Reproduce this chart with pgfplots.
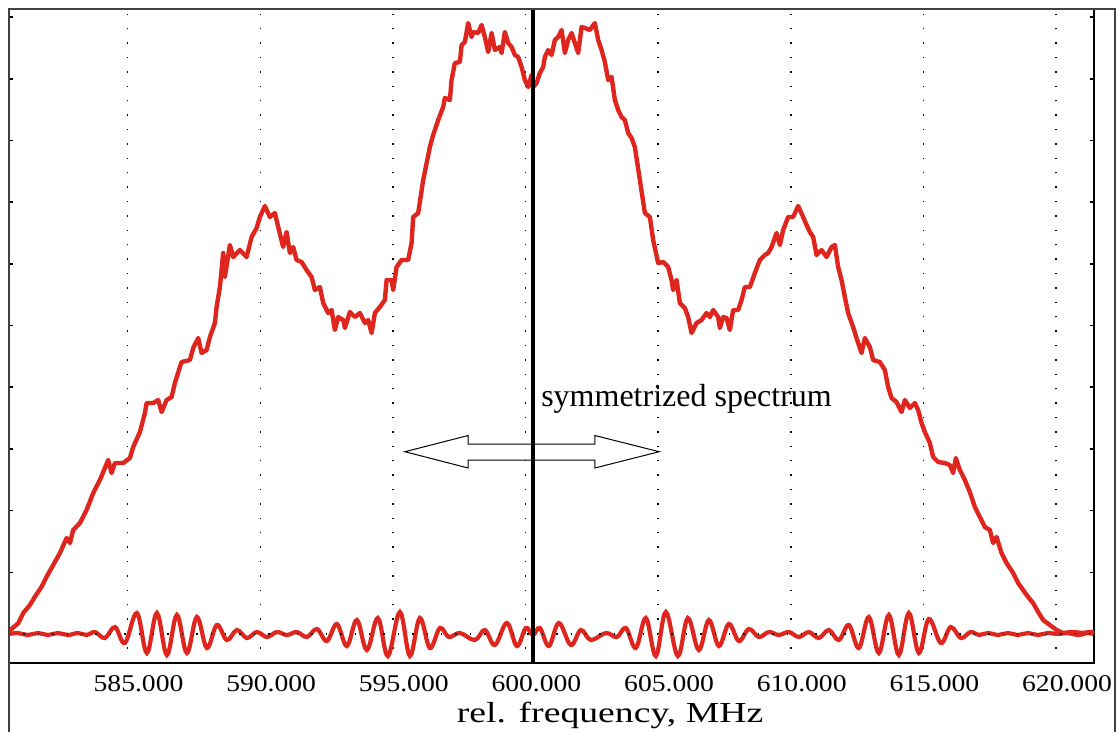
\documentclass[border=0pt]{standalone}
\usepackage{fontspec}
\setmainfont{Liberation Serif}
\usepackage{pgfplots}
\pgfplotsset{compat=1.18}
\definecolor{specred}{RGB}{222,38,30}

\pgfplotstableread{
x y
580.53 3
580.877 10.7
581.065 21
581.318 29
581.506 37.3
581.759 47.3
581.947 57.3
582.196 69
582.449 81
582.701 96
582.826 91
582.950 104
583.202 111
583.455 124
583.704 141
583.956 154
584.081 162
584.269 174
584.397 161
584.522 171
584.835 171
585.087 176
585.212 187
585.464 202
585.653 221
585.717 231
585.965 231
586.154 234
586.282 222
586.470 234
586.659 237
586.783 251
586.972 267
587.036 272
587.349 274
587.473 286
587.662 296
587.790 281
587.978 284
588.103 297
588.291 311
588.355 327
588.480 347
588.604 381
588.668 357
588.856 389
588.981 377
589.233 384
589.486 377
589.674 397
589.863 406
589.987 417
590.176 428
590.364 417
590.553 421
590.677 407
590.865 387
590.994 402
591.118 381
591.242 387
591.371 374
591.559 372
591.747 364
591.936 357
592.060 344
592.249 347
592.373 331
592.562 321
592.690 324
592.814 304
592.939 317
593.127 314
593.191 306
593.380 322
593.568 317
593.757 321
593.945 311
594.069 314
594.198 301
594.322 321
594.510 327
594.699 334
594.763 354
594.951 354
595.012 344
595.140 367
595.328 374
595.577 374
595.705 391
595.766 417
595.954 421
596.143 454
596.395 487
596.519 499
596.708 514
596.896 527
596.960 536
597.149 534
597.213 554
597.337 571
597.526 572
597.590 589
597.714 592
597.839 611
597.967 597
598.027 602
598.216 601
598.344 609
598.468 597
598.593 582
598.721 601
598.845 584
599.034 587
599.098 581
599.222 602
599.346 591
599.475 587
599.599 579
599.723 577
599.852 567
599.976 554
600.100 547
600.228 559
600.289 547
600.417 551
600.541 561
600.666 567
600.730 577
600.854 584
600.982 579
601.107 594
601.231 597
601.359 604
601.484 581
601.608 594
601.736 601
601.861 591
601.985 581
602.113 607
602.237 606
602.426 604
602.614 611
602.739 594
602.867 584
602.991 572
603.116 554
603.244 557
603.368 534
603.493 524
603.621 517
603.745 514
603.870 501
603.998 496
604.122 487
604.311 454
604.499 421
604.688 417
604.812 394
605.000 371
605.189 372
605.377 367
605.505 354
605.566 344
605.694 354
605.818 331
606.007 326
606.131 317
606.259 301
606.448 311
606.636 314
606.825 321
606.949 317
607.073 324
607.262 317
607.326 306
607.450 317
607.579 316
607.703 304
607.827 324
608.016 324
608.144 334
608.268 347
608.457 347
608.645 361
608.834 374
609.022 379
609.147 381
609.275 387
609.463 401
609.588 389
609.712 404
609.900 417
610.089 417
610.277 428
610.466 417
610.594 409
610.718 402
610.843 397
610.971 379
611.159 384
611.348 377
611.536 387
611.661 389
611.785 367
611.913 354
612.038 337
612.162 321
612.350 307
612.479 296
612.667 281
612.791 296
612.980 287
613.104 274
613.357 272
613.545 264
613.670 247
613.798 236
613.986 232
614.175 222
614.299 234
614.488 226
614.676 231
614.800 224
614.929 211
615.053 202
615.241 191
615.366 177
615.554 172
615.807 171
615.995 169
616.120 161
616.221 176
616.372 164
616.561 154
616.749 142
616.938 127
617.126 117
617.315 107
617.503 104
617.627 91
617.756 97
617.944 81
618.133 71
618.381 61
618.570 51
618.758 44
618.947 37
619.135 31
619.324 22
619.512 14
619.765 9
620.017 4
620.266 1
620.600 2
621.020 1
621.272 2
621.420 2
}\spectrum

\pgfplotstableread{
x y
580.53 0
580.865 1
581.242 -1
581.619 1
581.996 -1
582.373 1
582.750 -1
583.127 1
583.466 -1
583.768 2
584.145 -4
584.522 7
584.898 -9
585.351 21
585.728 -19
586.105 21
586.482 -21
586.858 19
587.235 -19
587.612 17
587.989 -14
588.366 9
588.743 -6
589.120 4
589.497 -4
589.874 2
590.251 -3
590.628 2
591.005 -1
591.382 2
591.759 -3
592.135 5
592.512 -7
592.889 10
593.266 -12
593.643 14
594.020 -16
594.435 16
594.812 -22
595.264 22
595.641 -22
596.018 16
596.395 -14
596.772 6
597.110 -3
597.525 1
598.090 -6
598.468 4
598.845 -11
599.297 11
599.674 -12
600.013 6
600.277 -1
600.541 6
600.880 -12
601.257 11
601.709 -11
602.086 4
602.464 -6
603.029 1
603.444 -3
603.783 6
604.159 -14
604.536 16
604.913 -22
605.290 22
605.742 -22
606.119 16
606.534 -16
606.911 14
607.288 -12
607.665 10
608.042 -7
608.419 5
608.796 -3
609.173 2
609.550 -1
609.926 2
610.303 -3
610.680 2
611.057 -4
611.434 4
611.811 -6
612.188 9
612.565 -14
612.942 17
613.319 -19
613.696 19
614.072 -21
614.449 21
614.826 -19
615.203 15
615.655 -9
616.032 7
616.409 -4
616.776 2
617.088 -1
617.428 1
617.805 -1
618.182 1
618.559 -1
618.936 1
619.312 -1
619.689 1
620.066 0
620.443 1
620.820 -1
621.197 1
621.420 0
}\oscill

\begin{document}
\begin{tikzpicture}
\begin{axis}[
  scale only axis,
  width=542.5pt, height=327pt,
  xmin=580.53, xmax=621.43,
  ymin=-29, ymax=625,
  clip=false,
  axis line style={line width=0.8pt, black},
  xtick={585,590,595,600,605,610,615,620},
  xticklabels={585.000,590.000,595.000,600.000,605.000,610.000,615.000,620.000},
  xtick style={draw=none},
  xticklabel style={font=\fontsize{12}{13}\selectfont, xscale=1.15, anchor=base, yshift=-14pt, xshift=4.75pt},
  xmajorgrids,
  grid style={black, line width=0.7pt, dash pattern=on 0.7pt off 6.5pt},
  ytick={61.7,123.4,185.1,246.8,308.5,370.2,431.9,493.6,555.3,617},
  yticklabels={},
  ytick style={black, line width=0.8pt},
  tick align=inside,
  major tick length=2pt,
]
\addplot[specred, line width=2.1pt, smooth, tension=0.6] table[x=x,y=y] {\oscill};
\addplot[specred, line width=2.2pt, line join=round] table[x=x,y=y] {\spectrum};
\draw[black, line width=0.7pt, dash pattern=on 0.7pt off 6.5pt] (axis cs:580.53,0) -- (axis cs:621.43,0);
\draw[black, line width=0.5pt, fill=white]
  (axis cs:595.453,182.3) -- (axis cs:597.839,198.5) -- (axis cs:597.839,190)
  -- (axis cs:602.614,190) -- (axis cs:602.614,198.5) -- (axis cs:605.038,182.3)
  -- (axis cs:602.614,166) -- (axis cs:602.614,174) -- (axis cs:597.839,174)
  -- (axis cs:597.839,166) -- cycle;
\addplot[black, line width=2pt] coordinates {(600.27,-29) (600.27,625)};
\node[anchor=base west, font=\fontsize{16}{18}\selectfont, inner sep=0pt] at (axis cs:600.579,227.3) {symmetrized spectrum};
\node[anchor=base, font=\fontsize{14.5}{16}\selectfont, xscale=1.3, inner sep=0pt] at (rel axis cs:0.554,-0.0917) {rel. frequency, MHz};
\draw[black!75, line width=0.6pt] (rel axis cs:0,-0.3) -- (rel axis cs:0,1) -- (rel axis cs:1.0194,1) -- (rel axis cs:1.0194,-0.3);
\coordinate (bbl) at (rel axis cs:-0.0083,-0.104);
\coordinate (btr) at (rel axis cs:1.0212,1.0138);
\end{axis}
\pgfresetboundingbox
\path[use as bounding box] (bbl) rectangle (btr);
\end{tikzpicture}
\end{document}
